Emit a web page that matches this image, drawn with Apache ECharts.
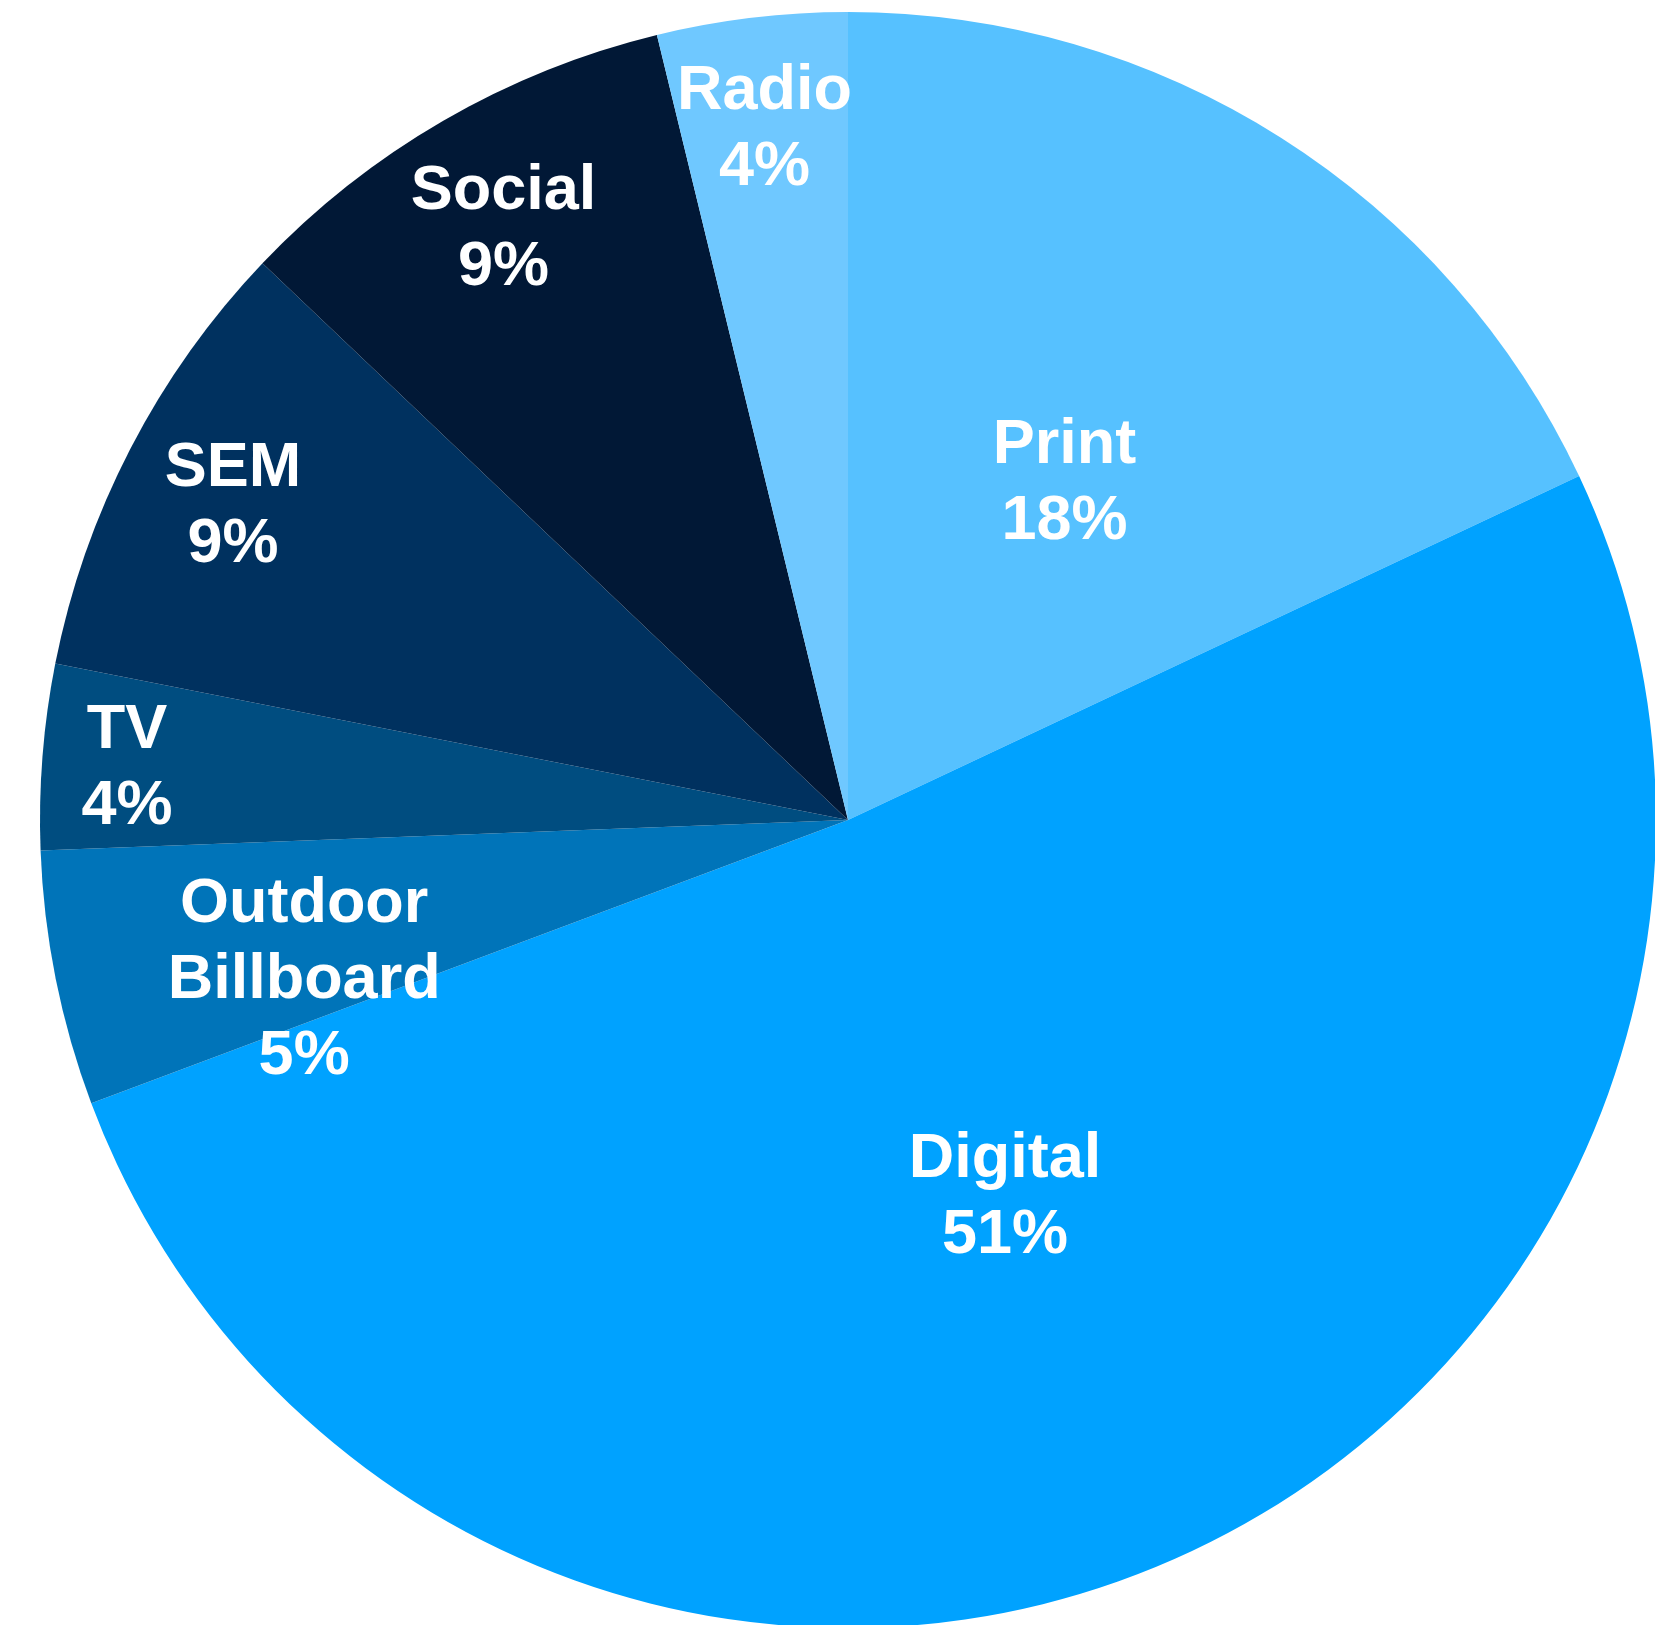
<!DOCTYPE html>
<html>
<head>
<meta charset="utf-8">
<title>Marketing Spend by Channel</title>
<script src="https://cdn.jsdelivr.net/npm/echarts@6/dist/echarts.min.js"></script>
<style>
  html, body { margin: 0; padding: 0; background: #ffffff; }
  #chart { width: 1655px; height: 1625px; }
</style>
</head>
<body>
<div id="chart"></div>
<script>
// Channel share of spend (percent), clockwise from 12 o'clock
const channels = ['Print', 'Digital', 'Outdoor\nBillboard', 'TV', 'SEM', 'Social', 'Radio'];
const shares = [18.0, 51.3, 5.1, 3.7, 9.0, 9.1, 3.8];
const sliceColors = ['#56C1FF', '#00A2FF', '#0074B9', '#004D80', '#00315F', '#011836', '#6FC8FF'];

// Layout of the pie
const CX = 848, CY = 820, R = 808;
// Radial placement of each label as a fraction of the radius, plus a small angular nudge (deg)
const labelRadial = [0.5, 0.5, 0.70, 0.895, 0.857, 0.851, 0.867];
const labelNudge = [0, 0, -4.6, 0, 0, 0, 0];
const labelDrop = 5;

const total = shares.reduce((a, b) => a + b, 0);
const midAngles = [];
let acc = 0;
shares.forEach(v => {
  midAngles.push((acc + v / 2) / total * 360);
  acc += v;
});

const chart = echarts.init(document.getElementById('chart'), null, { renderer: 'canvas' });
chart.setOption({
  animation: false,
  backgroundColor: '#ffffff',
  series: [{
    type: 'pie',
    center: [CX, CY],
    radius: [0, R],
    startAngle: 90,
    clockwise: true,
    avoidLabelOverlap: false,
    itemStyle: { borderWidth: 0 },
    label: {
      show: true,
      position: 'inside',
      color: '#ffffff',
      fontFamily: '"Liberation Sans", Arial, sans-serif',
      fontWeight: 'bold',
      fontSize: 63,
      lineHeight: 76,
      align: 'center',
      formatter: p => p.name + '\n' + Math.round(p.percent) + '%'
    },
    labelLine: { show: false },
    labelLayout: function (params) {
      const i = params.dataIndex;
      const a = (midAngles[i] + labelNudge[i]) * Math.PI / 180;
      const d = labelRadial[i] * R;
      return {
        x: CX + d * Math.sin(a),
        y: CY - d * Math.cos(a) + labelDrop,
        align: 'center',
        verticalAlign: 'middle'
      };
    },
    data: channels.map((name, i) => ({
      name: name,
      value: shares[i],
      itemStyle: { color: sliceColors[i] }
    }))
  }]
});
</script>
</body>
</html>
